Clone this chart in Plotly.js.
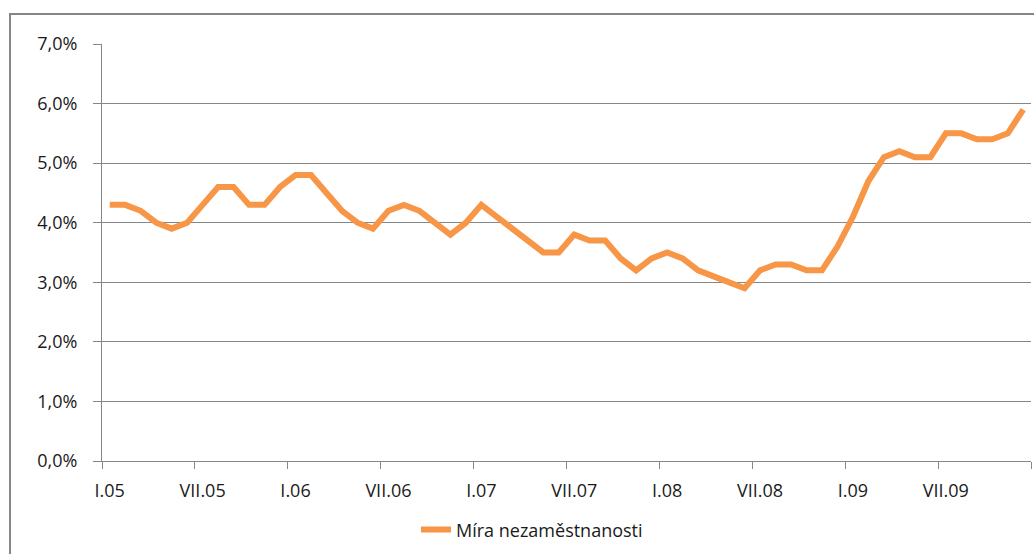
<!DOCTYPE html>
<html>
<head>
<meta charset="utf-8">
<script src="https://cdn.plot.ly/plotly-3.0.1.min.js"></script>
<style>html,body{margin:0;padding:0;background:#fff;}#chart{width:1034px;height:554px;}</style>
</head>
<body>
<div id="chart"></div>
<script>
// Monthly values I.05 – XII.09
const months = [
  'I.05','II.05','III.05','IV.05','V.05','VI.05','VII.05','VIII.05','IX.05','X.05','XI.05','XII.05',
  'I.06','II.06','III.06','IV.06','V.06','VI.06','VII.06','VIII.06','IX.06','X.06','XI.06','XII.06',
  'I.07','II.07','III.07','IV.07','V.07','VI.07','VII.07','VIII.07','IX.07','X.07','XI.07','XII.07',
  'I.08','II.08','III.08','IV.08','V.08','VI.08','VII.08','VIII.08','IX.08','X.08','XI.08','XII.08',
  'I.09','II.09','III.09','IV.09','V.09','VI.09','VII.09','VIII.09','IX.09','X.09','XI.09','XII.09'
];
const unemployment = [
  4.3,4.3,4.2,4.0,3.9,4.0,4.3,4.6,4.6,4.3,4.3,4.6,
  4.8,4.8,4.5,4.2,4.0,3.9,4.2,4.3,4.2,4.0,3.8,4.0,
  4.3,4.1,3.9,3.7,3.5,3.5,3.8,3.7,3.7,3.4,3.2,3.4,
  3.5,3.4,3.2,3.1,3.0,2.9,3.2,3.3,3.3,3.2,3.2,3.6,
  4.1,4.7,5.1,5.2,5.1,5.1,5.5,5.5,5.4,5.4,5.5,5.9
];
const seriesName = 'Míra nezaměstnanosti';
const labelStep = 6;

const idx = months.map((m, i) => i);
const labelVals = idx.filter(i => i % labelStep === 0);
const labelText = labelVals.map(i => months[i]);
const boundaryVals = [];
for (let i = 0; i <= months.length; i += labelStep) boundaryVals.push(i - 0.5);

const gray = '#868686';
const font = {family: 'Open Sans, sans-serif', size: 18, color: '#1a1a1a'};

const trace = {
  x: idx,
  y: unemployment,
  type: 'scatter',
  mode: 'lines',
  name: seriesName,
  line: {color: '#F79646', width: 6},
  hoverinfo: 'skip'
};

const layout = {
  width: 1034, height: 554,
  margin: {l: 102, r: 3, t: 44, b: 93},
  paper_bgcolor: '#fff', plot_bgcolor: '#fff',
  font: font,
  separators: ', ',
  showlegend: true,
  legend: {
    orientation: 'h', x: 0.338, xanchor: 'left', y: -0.165, yanchor: 'middle',
    font: font, bgcolor: 'rgba(0,0,0,0)'
  },
  xaxis: {
    range: [-0.5, months.length - 0.5],
    tickmode: 'array', tickvals: labelVals, ticktext: labelText,
    ticks: '', showgrid: false, zeroline: false,
    showline: true, linecolor: gray, linewidth: 1,
    ticklabelstandoff: 13,
    minor: {tickmode: 'array', tickvals: boundaryVals, ticks: 'outside', ticklen: 7, tickcolor: gray, tickwidth: 1, showgrid: false},
    tickfont: font
  },
  yaxis: {
    range: [0, 7], dtick: 1, tick0: 0,
    tickformat: '.1f', ticksuffix: '%',
    ticks: 'outside', ticklen: 8, tickcolor: gray,
    showgrid: true, gridcolor: gray, gridwidth: 1,
    zeroline: false, showline: true, linecolor: gray, linewidth: 1,
    ticklabelstandoff: 12,
    tickfont: font
  },
  shapes: [{
    type: 'rect', xref: 'paper', yref: 'paper',
    x0: -0.099, x1: 1.02, y0: -0.3, y1: 1.072,
    line: {color: gray, width: 2}, fillcolor: 'rgba(0,0,0,0)', layer: 'below'
  }]
};

Plotly.newPlot('chart', [trace], layout, {staticPlot: true, displayModeBar: false});
</script>
</body>
</html>
